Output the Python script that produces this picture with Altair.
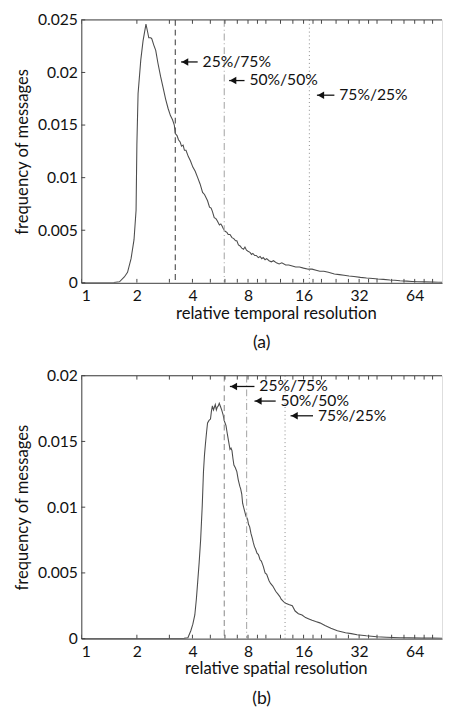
import altair as alt
import pandas as pd

# ---------------- data ----------------
temporal_x = [1.0, 1.3, 1.5, 1.61, 1.71, 1.78, 1.86, 1.93, 1.98, 2.00, 2.03, 2.10, 2.16, 2.24,
              2.29, 2.32, 2.38, 2.41, 2.47, 2.53, 2.60, 2.69, 2.77, 2.86, 2.95, 3.04, 3.12,
              3.19, 3.23, 3.30, 3.36, 3.43, 3.49, 3.56, 3.62, 3.69, 3.80, 3.90, 4.02, 4.14,
              4.27, 4.40, 4.54, 4.65, 4.83, 4.95, 5.05, 5.13, 5.25, 5.36, 5.45, 5.60, 5.70,
              5.79, 5.90, 6.01, 6.15, 6.25, 6.39, 6.55, 6.70, 6.85, 6.96, 7.10, 7.25, 7.40,
              7.57, 7.70, 7.85, 8.0, 8.2, 8.36, 8.5, 8.7, 8.87, 9.1, 9.3, 9.5, 9.67, 9.9,
              10.1, 10.4, 10.7, 11.0, 11.4, 11.8, 12.2, 12.8, 13.3, 13.9, 14.5, 15.2, 16.0,
              17.0, 17.8, 18.7, 19.6, 20.6, 21.8, 23.5, 25.0, 26.5, 28.2, 30.0, 32.5, 35.1,
              38.0, 40.5, 43.3, 47.0, 50.0, 53.3, 58.0, 62.0, 66.4, 72.0, 80.0, 86.0, 91.0, 100.0]
temporal_y = [0, 0, 0.00002, 0.0001, 0.00056, 0.0010, 0.0023, 0.0041, 0.0069, 0.0131, 0.0180,
              0.0212, 0.0230, 0.0246, 0.0238, 0.0233, 0.0233, 0.0232, 0.0226, 0.0221, 0.0209,
              0.0196, 0.0186, 0.0175, 0.0166, 0.0159, 0.0155, 0.0150, 0.0142, 0.0140, 0.0136,
              0.0134, 0.0130, 0.0131, 0.0126, 0.0126, 0.0120, 0.0116, 0.0110, 0.0106, 0.0100,
              0.0094, 0.0086, 0.0084, 0.0078, 0.0072, 0.0071, 0.0068, 0.0062, 0.0061, 0.0059,
              0.0055, 0.0056, 0.0054, 0.0051, 0.0049, 0.0048, 0.0046, 0.0046, 0.0043, 0.0042,
              0.0040, 0.0040, 0.0036, 0.0035, 0.0033, 0.0032, 0.0034, 0.0031, 0.0030, 0.0029,
              0.0027, 0.0028, 0.0026, 0.0026, 0.0024, 0.0025, 0.0023, 0.0024, 0.0022, 0.0023,
              0.0021, 0.0020, 0.0021, 0.0019, 0.0018, 0.0019, 0.0017, 0.0017, 0.0016, 0.0015,
              0.0015, 0.0014, 0.0013, 0.0013, 0.0012, 0.0011, 0.0011, 0.0010, 0.00084, 0.00078,
              0.00072, 0.00065, 0.00060, 0.00052, 0.00046, 0.00042, 0.00036, 0.00033, 0.00027,
              0.00024, 0.00019, 0.00016, 0.00013, 0.00011, 0.00009, 0.00007, 0.00005, 0.00004,
              0.00003]

spatial_x = [1.0, 3.0, 3.6, 3.78, 3.92, 4.02, 4.12, 4.20, 4.27, 4.35, 4.43, 4.52, 4.59, 4.65,
             4.71, 4.77, 4.83, 4.92, 5.01, 5.07, 5.13, 5.20, 5.26, 5.32, 5.39, 5.45, 5.52, 5.59,
             5.66, 5.76, 5.87, 5.94, 6.01, 6.08, 6.16, 6.28, 6.39, 6.47, 6.55, 6.63, 6.71, 6.83,
             6.96, 7.08, 7.22, 7.30, 7.40, 7.48, 7.57, 7.67, 7.80, 7.95, 8.05, 8.17, 8.3, 8.45,
             8.55, 8.67, 8.8, 8.95, 9.11, 9.3, 9.45, 9.68, 9.9, 10.1, 10.4, 10.6, 10.9, 11.3,
             11.6, 11.9, 12.1, 12.5, 12.8, 13.3, 13.9, 14.4, 15.0, 15.7, 16.4, 17.1, 17.8, 18.6,
             19.6, 20.9, 22.5, 24.4, 27.0, 29.0, 31.2, 35.0, 39.8, 45.0, 53.3, 60.0, 70.0, 80.0,
             90.0, 100.0]
spatial_y = [0, 0, 0.00002, 0.00007, 0.0006, 0.0011, 0.0018, 0.0030, 0.0043, 0.0058, 0.0075,
             0.0101, 0.0127, 0.0140, 0.0149, 0.0157, 0.0164, 0.0166, 0.0167, 0.0173, 0.0177,
             0.0174, 0.0176, 0.0178, 0.0174, 0.0176, 0.0177, 0.0179, 0.0177, 0.0174, 0.0170,
             0.0166, 0.0164, 0.0162, 0.0157, 0.0150, 0.0144, 0.0145, 0.0143, 0.0137, 0.0132,
             0.0130, 0.0127, 0.0121, 0.0116, 0.0114, 0.0110, 0.0103, 0.0100, 0.0097, 0.0093,
             0.0091, 0.0087, 0.0085, 0.0080, 0.0076, 0.0073, 0.0070, 0.0068, 0.0065, 0.0064,
             0.0060, 0.0059, 0.0055, 0.0050, 0.0049, 0.0044, 0.0042, 0.0040, 0.0036, 0.0034,
             0.0032, 0.0030, 0.0028, 0.0027, 0.0026, 0.0025, 0.0021, 0.0019, 0.0018, 0.0016,
             0.0015, 0.0014, 0.0013, 0.0012, 0.0010, 0.0008, 0.0006, 0.00045, 0.00038, 0.0003,
             0.00022, 0.00015, 0.00011, 0.00007, 0.00006, 0.00004, 0.00004, 0.00003, 0.00003]

split_labels = ["25%/75%", "50%/50%", "75%/25%"]
temporal_splits = [3.23, 5.95, 17.2]
spatial_splits = [5.95, 7.86, 12.7]

temporal_arrow_head = [3.47, 6.32, 18.9]
temporal_arrow_tail = [4.27, 7.66, 23.5]
temporal_label_y = [0.0210, 0.01923, 0.01784]
spatial_arrow_head = [6.38, 8.67, 13.6]
spatial_arrow_tail = [8.67, 11.3, 18.0]
spatial_label_y = [0.01918, 0.01807, 0.01695]

x_major_ticks = [1, 2, 4, 8, 16, 32, 64]
x_minor_ticks = [3, 5, 6, 7, 9, 10, 12, 14, 18, 20, 24, 28, 36, 40, 48, 56, 72, 80]
temporal_y_ticks = [0, 0.005, 0.01, 0.015, 0.02, 0.025]
spatial_y_ticks = [0, 0.005, 0.01, 0.015, 0.02]

FONT = "Lato"
W, H = 369, 269
X_MAX = 90


def panel(cx, cy, splits, heads, tails, label_y, ymax, yticks, xtitle, caption, dash_color):
    xs = alt.Scale(type="log", base=2, domain=[1, X_MAX], nice=False)
    ys = alt.Scale(domain=[0, ymax], nice=False)
    x_axis = alt.Axis(
        values=x_major_ticks, labelExpr="datum.value", ticks=False, grid=False,
        title=xtitle, titleX=199, labelFontSize=16, titleFontSize=17, labelFont=FONT,
        titleFont=FONT, titleFontWeight="normal", labelPadding=5, titlePadding=2,
        domainColor="#444", labelColor="#111", titleColor="#111")
    y_axis = alt.Axis(
        values=yticks, format=".3~f", ticks=False, grid=False,
        title="frequency of messages", labelFontSize=16, titleFontSize=17,
        labelFont=FONT, titleFont=FONT, titleFontWeight="normal", labelPadding=4,
        titlePadding=6, domainColor="#444", labelColor="#111", titleColor="#111")
    X = alt.X("x:Q", scale=xs, axis=x_axis)
    Y = alt.Y("y:Q", scale=ys, axis=y_axis)

    curve = pd.DataFrame({"x": cx, "y": cy})
    line = alt.Chart(curve).mark_line(color="#4d4d4d", strokeWidth=1.1, clip=True).encode(x=X, y=Y)

    xt = pd.DataFrame({"x": x_major_ticks + x_minor_ticks})
    top_ticks = alt.Chart(xt).mark_rule(color="#444", clip=True).encode(
        x=X, y=alt.value(0), y2=alt.value(4))
    bot_ticks = alt.Chart(xt).mark_rule(color="#444", clip=True).encode(
        x=X, y=alt.value(H), y2=alt.value(H - 4))
    yt = pd.DataFrame({"y": yticks})
    y_ticks = alt.Chart(yt).mark_rule(color="#444").encode(
        y=Y, x=alt.value(0), x2=alt.value(4))
    border = alt.Chart(pd.DataFrame({"a": [0]})).mark_rule(color="#444").encode(
        x=alt.value(0), x2=alt.value(W), y=alt.value(0))

    styles = [
        dict(color=dash_color, strokeDash=[6, 4], strokeWidth=1.2),
        dict(color="#b0b0b0", strokeDash=[7, 3, 1, 3], strokeWidth=1.2),
        dict(color="#888888", strokeDash=[1, 3], strokeWidth=1),
    ]
    split_layers = []
    for v, st in zip(splits, styles):
        split_layers.append(
            alt.Chart(pd.DataFrame({"x": [v]})).mark_rule(**st).encode(x=X))

    ann = pd.DataFrame({"x": heads, "x2": tails, "y": label_y, "label": split_labels})
    ann_text = pd.DataFrame({"x": tails, "y": label_y, "label": split_labels})
    arrow_line = alt.Chart(ann).mark_rule(color="#111", strokeWidth=1.3).encode(
        x=X, x2="x2:Q", y=Y)
    arrow_head = alt.Chart(ann).mark_point(shape="triangle-left", filled=True, color="#111",
                                           size=60, opacity=1, xOffset=4).encode(x=X, y=Y)
    arrow_text = alt.Chart(ann_text).mark_text(align="left", baseline="middle", dx=5, fontSize=16,
                                               font=FONT, color="#111").encode(
        x=X, y=Y, text="label:N")

    return alt.layer(
        line, *split_layers, top_ticks, bot_ticks, y_ticks, border,
        arrow_line, arrow_head, arrow_text,
    ).properties(
        width=W, height=H,
        title=alt.TitleParams(caption, orient="bottom", fontSize=18, font=FONT,
                              fontWeight="normal", color="#111", offset=14, anchor="middle"),
    )


top = panel(temporal_x, temporal_y, temporal_splits, temporal_arrow_head, temporal_arrow_tail,
            temporal_label_y, 0.025, temporal_y_ticks, "relative temporal resolution", "(a)",
            "#555555")
bottom = panel(spatial_x, spatial_y, spatial_splits, spatial_arrow_head, spatial_arrow_tail,
               spatial_label_y, 0.02, spatial_y_ticks, "relative spatial resolution", "(b)",
               "#999999")

chart = alt.vconcat(top, bottom, spacing=14).properties(
    padding={"left": 5, "top": -5, "right": 0, "bottom": 0}
).configure_view(stroke=None).configure(background="white")

chart.save("out.html", embed_options={"renderer": "svg", "actions": False})
